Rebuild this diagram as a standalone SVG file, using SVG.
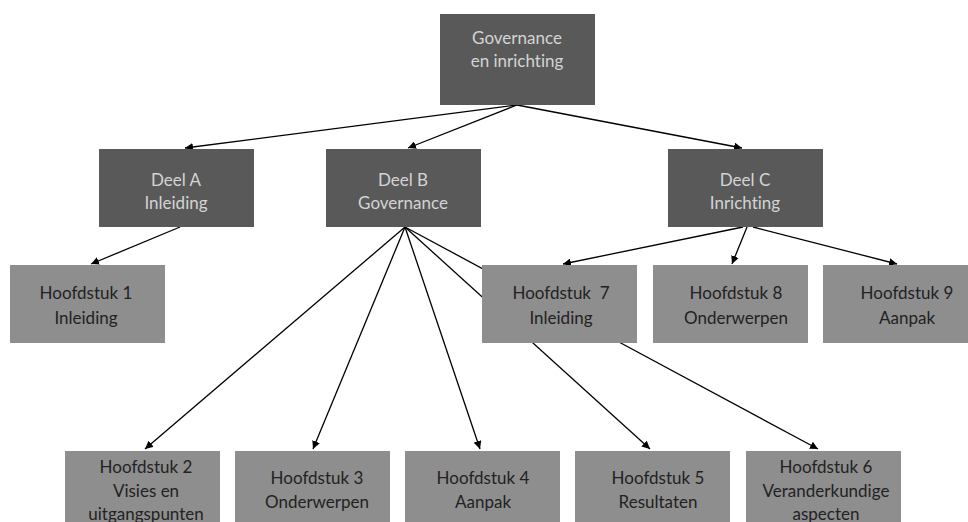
<svg xmlns="http://www.w3.org/2000/svg" width="968" height="522" viewBox="0 0 968 522">
<style>
.dark{fill:#595959}
.light{fill:#8e8e8e}
.tl,.td{font-family:Lato,"Open Sans","Liberation Sans",sans-serif;font-size:17px;text-anchor:middle;font-variant-ligatures:none;font-feature-settings:"liga" 0,"dlig" 0}
.tl{fill:#d4d4d4}
.td{fill:#222222}
.c{stroke:#000;stroke-width:1.3;fill:none;marker-end:url(#ah)}
</style>
<defs>
<marker id="ah" markerUnits="userSpaceOnUse" markerWidth="10" markerHeight="8" refX="8" refY="4" orient="auto">
<path d="M0,0 L8,4 L0,8 z" fill="#000"/>
</marker>
</defs>
<rect width="968" height="522" fill="#fff"/>
<g id="connectors">
<line class="c" x1="517" y1="105" x2="185" y2="148"/>
<line class="c" x1="517" y1="105" x2="408" y2="148"/>
<line class="c" x1="517" y1="105" x2="742" y2="148"/>
<line class="c" x1="180" y1="227" x2="91" y2="264"/>
<line class="c" x1="405" y1="227" x2="145" y2="449"/>
<line class="c" x1="405" y1="227" x2="313" y2="449"/>
<line class="c" x1="405" y1="227" x2="480" y2="449"/>
<line class="c" x1="405" y1="227" x2="650" y2="449"/>
<line class="c" x1="405" y1="227" x2="818" y2="449"/>
<line class="c" x1="743" y1="227" x2="563" y2="264"/>
<line class="c" x1="747" y1="227" x2="732" y2="264"/>
<line class="c" x1="753" y1="227" x2="897" y2="264"/>
</g>
<g id="top"><rect class="dark" x="440" y="14" width="155" height="91"/><text class="tl" x="517" y="44">Governance</text><text class="tl" x="517" y="67">en inrichting</text></g>
<g id="deelA"><rect class="dark" x="99" y="149" width="155" height="78"/><text class="tl" x="176" y="186">Deel A</text><text class="tl" x="176" y="209">Inleiding</text></g>
<g id="deelB"><rect class="dark" x="326" y="149" width="155" height="78"/><text class="tl" x="403" y="186">Deel B</text><text class="tl" x="403" y="209">Governance</text></g>
<g id="deelC"><rect class="dark" x="668" y="149" width="155" height="78"/><text class="tl" x="745" y="186">Deel C</text><text class="tl" x="745" y="209">Inrichting</text></g>
<g id="h1"><rect class="light" x="10" y="265" width="155" height="78"/><text class="td" x="86" y="299">Hoofdstuk 1</text><text class="td" x="86" y="324">Inleiding</text></g>
<g id="h7"><rect class="light" x="482" y="265" width="155" height="78"/><text class="td" x="561" y="299" xml:space="preserve">Hoofdstuk  7</text><text class="td" x="561" y="324">Inleiding</text></g>
<g id="h8"><rect class="light" x="653" y="265" width="155" height="78"/><text class="td" x="736" y="299">Hoofdstuk 8</text><text class="td" x="736" y="324">Onderwerpen</text></g>
<g id="h9"><rect class="light" x="823" y="265" width="155" height="78"/><text class="td" x="907" y="299">Hoofdstuk 9</text><text class="td" x="907" y="324">Aanpak</text></g>
<g id="h2"><rect class="light" x="65" y="451" width="155" height="78"/><text class="td" x="146" y="473">Hoofdstuk 2</text><text class="td" x="146" y="497">Visies en</text><text class="td" x="146" y="520">uitgangspunten</text></g>
<g id="h3"><rect class="light" x="235" y="451" width="155" height="78"/><text class="td" x="317" y="484">Hoofdstuk 3</text><text class="td" x="317" y="508">Onderwerpen</text></g>
<g id="h4"><rect class="light" x="405" y="451" width="155" height="78"/><text class="td" x="483" y="484">Hoofdstuk 4</text><text class="td" x="483" y="508">Aanpak</text></g>
<g id="h5"><rect class="light" x="575" y="451" width="155" height="78"/><text class="td" x="658" y="484">Hoofdstuk 5</text><text class="td" x="658" y="508">Resultaten</text></g>
<g id="h6"><rect class="light" x="746" y="451" width="155" height="78"/><text class="td" x="826" y="473">Hoofdstuk 6</text><text class="td" x="826" y="497">Veranderkundige</text><text class="td" x="826" y="520">aspecten</text></g>
</svg>
